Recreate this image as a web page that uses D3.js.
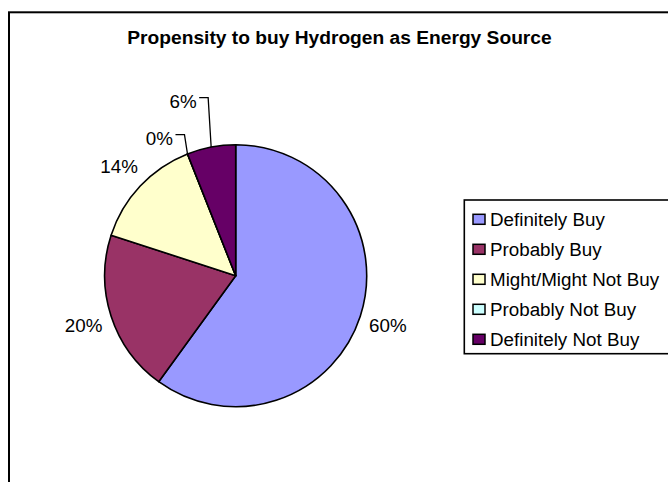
<!DOCTYPE html>
<html>
<head>
<meta charset="utf-8">
<script src="https://cdn.jsdelivr.net/npm/d3@7/dist/d3.min.js"></script>
<style>
  html, body { margin: 0; padding: 0; background: #fff; }
  svg { display: block; }
  text { font-family: "Liberation Sans", Arial, Helvetica, sans-serif; fill: #000; }
</style>
</head>
<body>
<svg id="chart" width="668" height="482"></svg>
<script>
// Survey responses: propensity to buy hydrogen as an energy source (percent)
const categories = ["Definitely Buy", "Probably Buy", "Might/Might Not Buy", "Probably Not Buy", "Definitely Not Buy"];
const shares = [60, 20, 14, 0, 6];
const colors = ["#9999FF", "#993366", "#FFFFCC", "#CCFFFF", "#660066"];
const title = "Propensity to buy Hydrogen as Energy Source";

const data = categories.map((c, i) => ({ name: c, value: shares[i], color: colors[i] }));

const svg = d3.select("#chart");

// Chart area frame (runs past the right and bottom of the view)
svg.append("rect")
  .attr("x", 9).attr("y", 12.3)
  .attr("width", 700).attr("height", 520)
  .attr("fill", "#fff").attr("stroke", "#000").attr("stroke-width", 2);

svg.append("text")
  .attr("x", 339.5).attr("y", 44)
  .attr("text-anchor", "middle")
  .attr("font-weight", "bold")
  .attr("font-size", 19.2)
  .text(title);

// Pie
const cx = 235.7, cy = 275.7, r = 131;
const pie = d3.pie().sort(null).value(d => d.value);
const arcs = pie(data);
const arc = d3.arc().innerRadius(0).outerRadius(r);

const g = svg.append("g").attr("transform", `translate(${cx},${cy})`);

g.selectAll("path.slice")
  .data(arcs)
  .join("path")
  .attr("class", "slice")
  .attr("d", arc)
  .attr("fill", d => d.data.color)
  .attr("stroke", "#000")
  .attr("stroke-width", 1.6)
  .attr("stroke-linejoin", "round");

// Percentage labels: larger slices get a label outside the rim,
// thin slices get a leader line and stacked labels above the pie.
const fmt = v => Math.round(v) + "%";
const labelFont = 18.8;
const small = arcs.filter(a => a.data.value < 8).sort((a, b) => a.startAngle - b.startAngle);
const smallOrder = new Map(small.map((a, i) => [a, i]));

arcs.forEach(a => {
  const mid = (a.startAngle + a.endAngle) / 2;
  const sx = Math.sin(mid), sy = -Math.cos(mid);
  if (a.data.value >= 8) {
    const lr = r + 29;
    g.append("text")
      .attr("x", sx * lr).attr("y", sy * lr)
      .attr("text-anchor", "middle")
      .attr("dominant-baseline", "central")
      .attr("font-size", labelFont)
      .text(fmt(a.data.value));
  } else {
    const i = smallOrder.get(a);
    const ex = sx * r, ey = sy * r;
    const ly = -(r + 10 + i * 37);
    const bendX = ex - 3;
    const endX = ex - 12;
    g.append("path")
      .attr("d", `M${ex},${ey} L${bendX},${ly} L${endX},${ly}`)
      .attr("fill", "none")
      .attr("stroke", "#000")
      .attr("stroke-width", 1.3);
    g.append("text")
      .attr("x", endX - 2.5).attr("y", ly + 3.3)
      .attr("text-anchor", "end")
      .attr("dominant-baseline", "central")
      .attr("font-size", labelFont)
      .text(fmt(a.data.value));
  }
});

// Legend
const legend = svg.append("g");
legend.append("rect")
  .attr("x", 464.3).attr("y", 200)
  .attr("width", 260).attr("height", 153.7)
  .attr("fill", "#fff").attr("stroke", "#000").attr("stroke-width", 1.6);

const rowY = d3.scalePoint().domain(categories).range([219.3, 339.3]);
const items = legend.selectAll("g.item").data(data).join("g").attr("class", "item")
  .attr("transform", d => `translate(0,${rowY(d.name)})`);
items.append("rect")
  .attr("x", 473).attr("y", -5)
  .attr("width", 12).attr("height", 10)
  .attr("fill", d => d.color)
  .attr("stroke", "#000").attr("stroke-width", 1.5);
items.append("text")
  .attr("x", 490).attr("y", 0)
  .attr("dominant-baseline", "central")
  .attr("font-size", 18.8)
  .text(d => d.name);
</script>
</body>
</html>
